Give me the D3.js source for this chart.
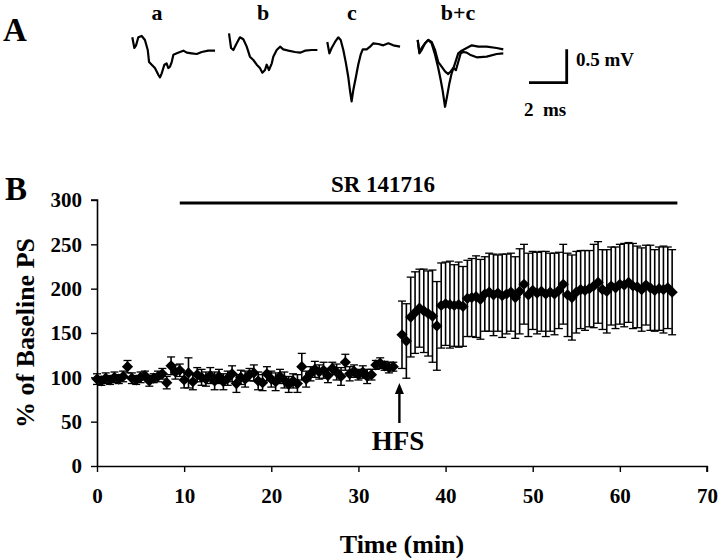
<!DOCTYPE html>
<html><head><meta charset="utf-8">
<script src="https://cdn.jsdelivr.net/npm/d3@7"></script>
<style>
body{margin:0;background:#fff}
svg{display:block}
text{font-family:"Liberation Serif","Times New Roman",serif;font-weight:bold;fill:#000}
</style>
</head><body>
<svg id="c" width="720" height="558"></svg>
<script>
// ---------- Panel B data ----------
const times = [0,0.5,1,1.5,2,2.5,3,3.5,4,4.5,5,5.5,6,6.5,7,7.5,8,8.5,9,9.5,10,10.5,11,11.5,12,12.5,13,13.5,14,14.5,15,15.5,16,16.5,17,17.5,18,18.5,19,19.5,20,20.5,21,21.5,22,22.5,23,23.5,24,24.5,25,25.5,26,26.5,27,27.5,28,28.5,29,29.5,30,30.5,31,31.5,32,32.5,33,33.5,34,
 35,35.5,36,36.5,37,37.5,38,38.5,39,39.5,40,40.5,41,41.5,42,42.5,43,43.5,44,44.5,45,45.5,46,46.5,47,47.5,48,48.5,49,49.5,50,50.5,51,51.5,52,52.5,53,53.5,54,54.5,55,55.5,56,56.5,57,57.5,58,58.5,59,59.5,60,60.5,61,61.5,62,62.5,63,63.5,64,64.5,65,65.5,66];
const meanPS = [98,96,99,97,100,98,101,112,99,97,100,102,96,99,101,104,94,113,106,108,97,105,95,103,100,98,102,96,101,95,99,104,93,100,98,103,105,96,94,104,98,95,101,97,92,96,93,112,98,104,109,106,108,102,110,106,101,117,104,107,103,106,101,103,114,116,113,111,112,
 148,141,168,173,178,175,172,169,158,181,183,182,181,182,180,189,190,191,188,194,196,193,195,192,194,196,190,197,205,193,198,195,197,194,196,194,198,205,193,190,196,199,198,200,203,207,199,197,203,201,205,204,207,203,202,199,204,201,198,200,199,201,196];
const semPS = [6,5,6,5,6,5,6,7,6,5,6,5,6,5,6,6,7,10,8,7,9,17,9,8,9,8,9,10,8,9,8,9,10,8,9,7,9,10,9,8,9,10,8,9,9,8,10,15,9,8,9,8,9,8,7,9,10,9,8,7,6,7,8,6,5,6,5,6,5,
 38,42,45,46,44,47,48,52,50,48,47,49,46,48,45,43,44,46,45,42,44,46,43,47,45,44,46,48,45,47,44,46,45,48,44,46,43,45,47,48,46,44,45,43,47,46,45,47,44,46,45,47,45,48,46,47,45,48,46,47,49,46,48];
const xTicks = [0,10,20,30,40,50,60,70];
const yTicks = [0,50,100,150,200,250,300];
const drugSpan = [9.5, 66.6];   // SR 141716 application (min)
const hfsTime = 34.7;

// ---------- Panel A traces (ms, mV) ----------
const traceA = [[0,0.19],[0.11,0.03],[0.2,0.07],[0.32,0.19],[0.5,0.21],[0.67,0.15],[0.82,0],[0.89,-0.18],[1.03,-0.22],[1.2,-0.27],[1.38,-0.37],[1.47,-0.41],[1.56,-0.35],[1.7,-0.22],[1.82,-0.2],[1.91,-0.27],[2.0,-0.25],[2.09,-0.18],[2.18,-0.07],[2.36,-0.05],[2.53,-0.03],[2.71,-0.01],[2.89,-0.04],[3.15,-0.05],[3.42,-0.06],[3.68,-0.03],[4.03,-0.01],[4.39,-0.01]];
const traceB = [[0,0.25],[0.11,0.03],[0.23,0],[0.41,0.1],[0.58,0.19],[0.76,0.16],[0.94,0.05],[1.11,-0.1],[1.29,-0.15],[1.47,-0.22],[1.64,-0.27],[1.77,-0.34],[1.91,-0.3],[2.0,-0.22],[2.12,-0.3],[2.27,-0.2],[2.35,-0.1],[2.53,0],[2.71,0.05],[2.88,0.01],[3.15,-0.01],[3.5,-0.03],[3.77,-0.04],[4.03,-0.01],[4.39,0],[4.69,0]];
const traceC = [[0,0.12],[0.11,-0.05],[0.23,0.03],[0.41,0.12],[0.58,0.19],[0.71,0.15],[0.85,0],[0.99,-0.2],[1.11,-0.4],[1.2,-0.6],[1.29,-0.77],[1.38,-0.6],[1.52,-0.4],[1.64,-0.22],[1.77,-0.07],[1.88,0.01],[2.09,0.01],[2.27,0.05],[2.44,0.1],[2.71,0.09],[2.97,0.07],[3.24,0.1],[3.5,0.07],[3.86,0.05]];
const traceBC1 = [[0,0.15],[0.09,-0.05],[0.21,0],[0.39,0.1],[0.56,0.15],[0.74,0.12],[0.92,0],[1.09,-0.18],[1.27,-0.25],[1.45,-0.32],[1.62,-0.36],[1.75,-0.32],[1.89,-0.27],[2.03,-0.3],[2.15,-0.18],[2.28,-0.05],[2.42,-0.03],[2.6,-0.04],[2.77,-0.07],[3.13,-0.11],[3.66,-0.1],[4.19,-0.06],[4.54,-0.05]];
const traceBC2 = [[0,0.15],[0.09,-0.03],[0.21,0.03],[0.39,0.1],[0.56,0.15],[0.74,0.1],[0.92,-0.07],[1.09,-0.27],[1.22,-0.45],[1.33,-0.62],[1.45,-0.85],[1.54,-0.72],[1.68,-0.5],[1.8,-0.35],[1.98,-0.2],[2.15,-0.05],[2.33,-0.01],[2.6,0.03],[2.87,0.07],[3.22,0.05],[3.66,0.05],[4.19,0.03],[4.54,0.01]];
const traceLabels = ["a","b","c","b+c"];
const scaleBarMs = 2, scaleBarMv = 0.5;

const svg = d3.select("#c");

// ---------- Panel A ----------
const msScale = d3.scaleLinear().domain([0, 1]).range([0, 18.85]);
const mvScale = d3.scaleLinear().domain([0, 1]).range([50, 50 - 66.8]);
const traceGroups = [
  {x0: 132.3, lx: 157, traces: [traceA]},
  {x0: 229, lx: 263, traces: [traceB]},
  {x0: 327.3, lx: 352, traces: [traceC]},
  {x0: 417.7, lx: 458, traces: [traceBC1, traceBC2]}
];
svg.append("text").attr("x", 3).attr("y", 41).attr("font-size", 33).text("A");
traceGroups.forEach((g, i) => {
  svg.append("text").attr("x", g.lx).attr("y", 20).attr("text-anchor", "middle")
     .attr("font-size", 22).text(traceLabels[i]);
  const line = d3.line().x(d => g.x0 + msScale(d[0])).y(d => mvScale(d[1]));
  g.traces.forEach(t => {
    svg.append("path").attr("d", line(t)).attr("fill", "none")
       .attr("stroke", "#000").attr("stroke-width", 2.2).attr("stroke-linejoin", "round");
  });
});
// scale bar
const sbx = 566.7, sby = 82.7;
svg.append("path")
  .attr("d", `M${sbx - msScale(scaleBarMs)},${sby}H${sbx}V${sby - (mvScale(0) - mvScale(scaleBarMv))}`)
  .attr("fill", "none").attr("stroke", "#000").attr("stroke-width", 2.8);
svg.append("text").attr("x", 576).attr("y", 66).attr("font-size", 19).text("0.5 mV");
svg.append("text").attr("x", 524).attr("y", 116).attr("font-size", 19).attr("xml:space","preserve").text("2  ms");

// ---------- Panel B ----------
const x = d3.scaleLinear().domain([0, 70]).range([97, 707]);
const y = d3.scaleLinear().domain([0, 300]).range([466, 200]);
svg.append("text").attr("x", 5).attr("y", 200).attr("font-size", 33).text("B");

const yAxis = svg.append("g").attr("transform", `translate(${x(0)},0)`)
  .call(d3.axisLeft(y).tickValues(yTicks).tickSize(6).tickPadding(9));
const xAxis = svg.append("g").attr("transform", `translate(0,${y(0)})`)
  .call(d3.axisBottom(x).tickValues(xTicks).tickSize(6).tickPadding(16));
[yAxis, xAxis].forEach(a => {
  a.selectAll(".domain").attr("stroke", "#000").attr("stroke-width", 1.6);
  a.selectAll(".tick line").attr("stroke", "#000").attr("stroke-width", 1.4);
  a.selectAll(".tick text").attr("font-size", 21).attr("font-family", '"Liberation Serif",serif').attr("font-weight", "bold").attr("fill", "#000");
});
xAxis.selectAll(".domain").attr("d", `M${x(0)},0.5H${x(70)}V6`);
yAxis.selectAll(".domain").attr("d", `M-6,${y(300)}H0.5V${y(0)}`);

svg.append("text").attr("transform", `translate(34,333) rotate(-90)`)
  .attr("text-anchor", "middle").attr("font-size", 26).text("% of Baseline PS");
svg.append("text").attr("x", 402).attr("y", 553).attr("text-anchor", "middle")
  .attr("font-size", 26).text("Time (min)");

// drug bar
svg.append("line").attr("x1", x(drugSpan[0])).attr("x2", x(drugSpan[1]))
  .attr("y1", 203).attr("y2", 203).attr("stroke", "#000").attr("stroke-width", 3);
svg.append("text").attr("x", 383).attr("y", 192).attr("text-anchor", "middle")
  .attr("font-size", 23).text("SR 141716");

// error bars
const n = Math.min(times.length, meanPS.length, semPS.length);
const pts = d3.range(n).map(i => ({t: times[i], m: meanPS[i], e: semPS[i]}));
const eb = svg.append("g").attr("stroke", "#000").attr("stroke-width", 1.6);
pts.forEach(p => {
  const cx = x(p.t);
  eb.append("line").attr("x1", cx).attr("x2", cx).attr("y1", y(p.m + p.e)).attr("y2", y(p.m - p.e));
  eb.append("line").attr("x1", cx - 4).attr("x2", cx + 4).attr("y1", y(p.m + p.e)).attr("y2", y(p.m + p.e)).attr("stroke-width", 1.3);
  eb.append("line").attr("x1", cx - 4).attr("x2", cx + 4).attr("y1", y(p.m - p.e)).attr("y2", y(p.m - p.e)).attr("stroke-width", 1.3);
});
// diamond markers
const r = 5.6;
svg.append("g").selectAll("path").data(pts).join("path")
  .attr("d", `M0,${-r}L${r},0L0,${r}L${-r},0Z`)
  .attr("transform", p => `translate(${x(p.t)},${y(p.m)})`)
  .attr("fill", "#000");

// HFS arrow
const ax = x(hfsTime);
svg.append("line").attr("x1", ax).attr("x2", ax).attr("y1", 423).attr("y2", 392)
  .attr("stroke", "#000").attr("stroke-width", 2.4);
svg.append("path").attr("d", `M${ax - 4.5},${394}L${ax},${383}L${ax + 4.5},${394}Z`).attr("fill", "#000");
svg.append("text").attr("x", 398).attr("y", 450).attr("text-anchor", "middle")
  .attr("font-size", 27).text("HFS");
</script>
</body></html>
